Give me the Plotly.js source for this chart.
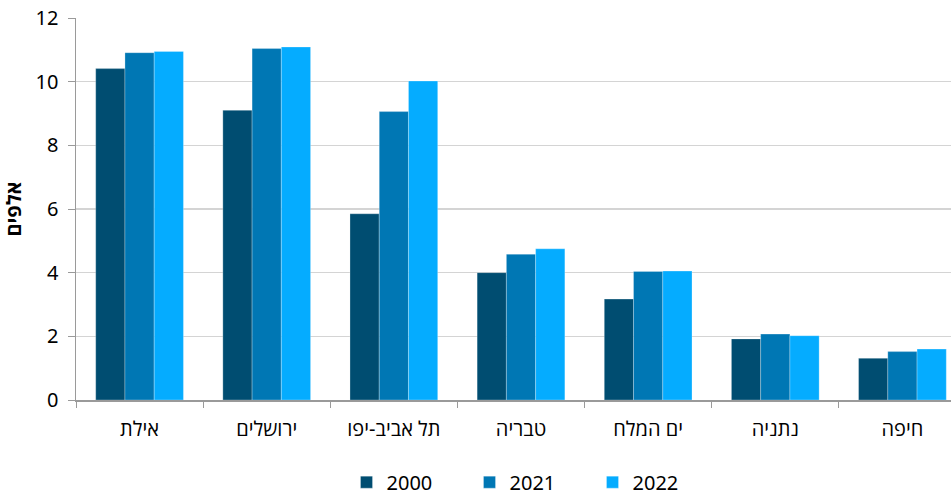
<!DOCTYPE html>
<html>
<head>
<meta charset="utf-8">
<script src="https://cdn.plot.ly/plotly-3.0.1.min.js"></script>
<style>html,body{margin:0;padding:0;background:#fff;}#chart{width:951px;height:497px;}</style>
</head>
<body>
<div id="chart"></div>
<script>
var categories = ["אילת", "ירושלים", "תל אביב-יפו", "טבריה", "ים המלח", "נתניה", "חיפה"];
var seriesNames = ["2000", "2021", "2022"];
var values2000 = [10.41, 9.10, 5.85, 4.00, 3.17, 1.92, 1.31];
var values2021 = [10.91, 11.04, 9.06, 4.58, 4.04, 2.07, 1.52];
var values2022 = [10.95, 11.09, 10.02, 4.75, 4.05, 2.02, 1.60];
var colors = ["#004D71", "#0077B4", "#05ACFF"];
var yTicks = [0, 2, 4, 6, 8, 10, 12];

var allValues = [values2000, values2021, values2022];
var font = "'Noto Sans', 'Open Sans', 'DejaVu Sans', sans-serif";

var traces = allValues.map(function (vals, i) {
  return {
    type: "bar",
    name: seriesNames[i],
    x: categories,
    y: vals,
    marker: { color: colors[i], line: { color: "rgba(255,255,255,0.45)", width: 0.6 } },
    hoverinfo: "x+y+name"
  };
});

var layout = {
  width: 951,
  height: 497,
  margin: { l: 76, r: 0, t: 18, b: 97, autoexpand: false },
  paper_bgcolor: "#fff",
  plot_bgcolor: "#fff",
  barmode: "group",
  bargap: 0.31,
  bargroupgap: 0,
  font: { family: font, size: 17, color: "#000" },
  xaxis: {
    type: "category",
    range: [-0.5, 6.382],
    tickson: "boundaries",
    ticks: "outside",
    ticklen: 6,
    tickcolor: "#9a9a9a",
    showline: true,
    linecolor: "#9a9a9a",
    linewidth: 1.5,
    showgrid: false,
    tickfont: { size: 20, family: font },
    ticklabelstandoff: 10
  },
  yaxis: {
    range: [0, 12],
    tickvals: yTicks,
    ticktext: yTicks.map(String),
    ticks: "outside",
    ticklen: 7,
    tickcolor: "#9a9a9a",
    showline: true,
    linecolor: "#9a9a9a",
    linewidth: 1.5,
    gridcolor: "#d4d4d4",
    gridwidth: 1.2,
    zeroline: false,
    tickfont: { size: 20, family: font },
    ticklabelstandoff: 5,
    title: { text: "<b>אלפים</b>", font: { size: 20, family: font }, standoff: 9 }
  },
  legend: {
    orientation: "h",
    x: 0.52,
    xanchor: "center",
    y: -0.215,
    yanchor: "middle",
    font: { size: 20, family: font },
    entrywidth: 78,
    entrywidthmode: "pixels",
    itemwidth: 30
  },
  showlegend: true
};

Plotly.newPlot("chart", traces, layout, { displayModeBar: false, staticPlot: true });
</script>
</body>
</html>
